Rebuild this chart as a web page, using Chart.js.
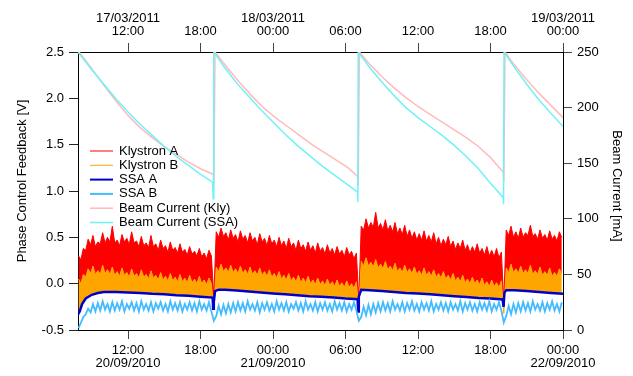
<!DOCTYPE html>
<html>
<head>
<meta charset="utf-8">
<script src="https://cdn.jsdelivr.net/npm/chart.js@4.4.0/dist/chart.umd.min.js"></script>
<style>
  html, body { margin: 0; padding: 0; background: #fff; }
  canvas { display: block; }
</style>
</head>
<body>
<canvas id="chart" width="633" height="376"></canvas>
<script>
// Time axis in hours from 20/09/2010 00:00 (bottom) / 17/03/2011 00:00 (top)
const tickHours = [12, 18, 24, 30, 36, 42, 48];
const bottomLabels = [['12:00', '20/09/2010'], '18:00', ['00:00', '21/09/2010'], '06:00', '12:00', '18:00', ['00:00', '22/09/2010']];
const topLabels = [['17/03/2011', '12:00'], '18:00', ['18/03/2011', '00:00'], '06:00', '12:00', '18:00', ['19/03/2011', '00:00']];
const xMin = 7.86, xMax = 48;

// Noisy phase feedback traces (upper edge of each band), sampled every 0.2 h from 7.9 h
const sampleStart = 7.9, sampleStep = 0.2;

const klyA = [
  0.30, 0.26, 0.38, 0.36, 0.48, 0.42, 0.52, 0.40, 0.45, 0.43,
  0.55, 0.44, 0.50, 0.45, 0.62, 0.44, 0.47, 0.41, 0.53, 0.45,
  0.49, 0.42, 0.56, 0.44, 0.46, 0.40, 0.51, 0.41, 0.44, 0.39,
  0.52, 0.40, 0.43, 0.36, 0.47, 0.38, 0.41, 0.34, 0.45, 0.36,
  0.39, 0.33, 0.43, 0.34, 0.37, 0.31, 0.40, 0.32, 0.35, 0.30,
  0.38, 0.29, 0.33, 0.27, 0.36, 0.30, -0.15, 0.56, 0.50, 0.60,
  0.51, 0.55, 0.47, 0.58, 0.49, 0.53, 0.45, 0.57, 0.48, 0.52,
  0.44, 0.55, 0.46, 0.50, 0.42, 0.54, 0.45, 0.49, 0.41, 0.52,
  0.43, 0.47, 0.40, 0.50, 0.41, 0.46, 0.38, 0.49, 0.40, 0.44,
  0.36, 0.47, 0.38, 0.42, 0.35, 0.45, 0.36, 0.41, 0.33, 0.44,
  0.35, 0.39, 0.32, 0.42, 0.33, 0.38, 0.31, 0.40, 0.32, 0.36,
  0.29, 0.39, 0.31, 0.35, 0.27, 0.33, -0.18, 0.62, 0.58, 0.70,
  0.60, 0.66, 0.61, 0.77, 0.60, 0.65, 0.58, 0.69, 0.57, 0.63,
  0.56, 0.66, 0.54, 0.60, 0.53, 0.63, 0.51, 0.58, 0.49, 0.56,
  0.47, 0.54, 0.47, 0.57, 0.46, 0.52, 0.45, 0.55, 0.43, 0.50,
  0.41, 0.48, 0.42, 0.51, 0.40, 0.46, 0.37, 0.44, 0.38, 0.47,
  0.36, 0.42, 0.33, 0.40, 0.34, 0.43, 0.33, 0.38, 0.31, 0.40,
  0.30, 0.36, 0.29, 0.38, 0.28, 0.34, -0.20, 0.58, 0.52, 0.62,
  0.50, 0.56, 0.49, 0.60, 0.50, 0.55, 0.52, 0.63, 0.51, 0.54,
  0.48, 0.58, 0.49, 0.53, 0.47, 0.57, 0.48, 0.52, 0.46, 0.56,
  0.50
];

const klyB = [
  0.05, 0.00, 0.10, 0.07, 0.16, 0.11, 0.19, 0.10, 0.14, 0.10,
  0.20, 0.11, 0.15, 0.10, 0.18, 0.09, 0.13, 0.08, 0.17, 0.09,
  0.12, 0.07, 0.16, 0.08, 0.11, 0.06, 0.15, 0.07, 0.10, 0.05,
  0.14, 0.06, 0.09, 0.04, 0.12, 0.04, 0.08, 0.03, 0.11, 0.03,
  0.07, 0.02, 0.10, 0.02, 0.06, 0.01, 0.09, 0.01, 0.05, 0.00,
  0.08, 0.00, 0.04, -0.01, 0.06, 0.00, -0.28, 0.18, 0.13, 0.21,
  0.13, 0.17, 0.12, 0.20, 0.12, 0.16, 0.11, 0.19, 0.11, 0.15,
  0.10, 0.18, 0.10, 0.14, 0.09, 0.17, 0.09, 0.13, 0.08, 0.15,
  0.07, 0.11, 0.06, 0.13, 0.05, 0.09, 0.04, 0.11, 0.03, 0.07,
  0.02, 0.09, 0.01, 0.06, 0.01, 0.08, 0.00, 0.04, -0.01, 0.06,
  -0.01, 0.03, -0.02, 0.05, -0.02, 0.02, -0.03, 0.04, -0.03, 0.01,
  -0.04, 0.03, -0.04, 0.00, -0.05, 0.02, -0.30, 0.24, 0.19, 0.28,
  0.19, 0.23, 0.18, 0.26, 0.17, 0.21, 0.16, 0.24, 0.15, 0.19,
  0.14, 0.22, 0.13, 0.17, 0.12, 0.20, 0.12, 0.16, 0.11, 0.18,
  0.10, 0.14, 0.09, 0.17, 0.09, 0.13, 0.08, 0.15, 0.07, 0.11,
  0.06, 0.13, 0.05, 0.09, 0.04, 0.11, 0.03, 0.07, 0.02, 0.09,
  0.01, 0.05, 0.00, 0.07, 0.00, 0.04, -0.01, 0.06, -0.02, 0.02,
  -0.03, 0.04, -0.03, 0.01, -0.04, 0.03, -0.32, 0.17, 0.12, 0.21,
  0.12, 0.16, 0.11, 0.19, 0.11, 0.15, 0.11, 0.20, 0.10, 0.14,
  0.10, 0.18, 0.09, 0.13, 0.09, 0.17, 0.08, 0.12, 0.08, 0.16,
  0.10
];

const ssaB = [
  -0.48, -0.42, -0.36, -0.33, -0.27, -0.31, -0.22, -0.30, -0.21, -0.29,
  -0.19, -0.28, -0.22, -0.30, -0.20, -0.29, -0.21, -0.28, -0.19, -0.30,
  -0.22, -0.27, -0.20, -0.29, -0.21, -0.30, -0.19, -0.28, -0.22, -0.29,
  -0.20, -0.30, -0.21, -0.27, -0.20, -0.29, -0.22, -0.30, -0.19, -0.28,
  -0.21, -0.29, -0.20, -0.30, -0.22, -0.28, -0.20, -0.29, -0.21, -0.30,
  -0.19, -0.28, -0.22, -0.29, -0.20, -0.30, -0.40, -0.35, -0.24, -0.33,
  -0.23, -0.32, -0.22, -0.31, -0.21, -0.30, -0.20, -0.29, -0.21, -0.30,
  -0.19, -0.28, -0.22, -0.29, -0.20, -0.31, -0.21, -0.28, -0.20, -0.29,
  -0.22, -0.30, -0.19, -0.28, -0.21, -0.29, -0.20, -0.30, -0.22, -0.27,
  -0.20, -0.29, -0.21, -0.30, -0.19, -0.28, -0.22, -0.29, -0.20, -0.30,
  -0.21, -0.28, -0.20, -0.29, -0.22, -0.30, -0.19, -0.28, -0.21, -0.29,
  -0.20, -0.30, -0.22, -0.28, -0.20, -0.29, -0.40, -0.36, -0.25, -0.34,
  -0.23, -0.33, -0.22, -0.31, -0.21, -0.30, -0.20, -0.29, -0.21, -0.30,
  -0.19, -0.28, -0.22, -0.29, -0.20, -0.30, -0.21, -0.28, -0.19, -0.29,
  -0.22, -0.30, -0.20, -0.28, -0.21, -0.29, -0.19, -0.30, -0.22, -0.28,
  -0.20, -0.29, -0.21, -0.30, -0.20, -0.28, -0.22, -0.29, -0.19, -0.30,
  -0.21, -0.28, -0.20, -0.29, -0.22, -0.30, -0.20, -0.28, -0.21, -0.29,
  -0.19, -0.30, -0.22, -0.28, -0.20, -0.29, -0.42, -0.35, -0.24, -0.33,
  -0.22, -0.31, -0.21, -0.30, -0.20, -0.29, -0.21, -0.30, -0.19, -0.28,
  -0.22, -0.29, -0.20, -0.30, -0.21, -0.28, -0.19, -0.29, -0.22, -0.30,
  -0.20
];

// SSA A (smooth trace)
const ssaATimes = [7.86, 8.0, 8.2, 8.5, 9, 9.5, 10, 11, 12, 13, 14, 15, 16, 17, 18, 19.0, 19.05, 19.1, 19.2, 19.5,
  20, 21, 22, 23, 24, 25, 26, 27, 28, 29, 30, 31.0, 31.05, 31.1, 31.3,
  32, 33, 34, 35, 36, 37, 38, 39, 40, 41, 42, 43.0, 43.08, 43.15, 43.3, 44, 45, 46, 47, 48];
const ssaA = [-0.33, -0.30, -0.22, -0.16, -0.12, -0.10, -0.09, -0.09, -0.095, -0.10, -0.11, -0.115, -0.125, -0.13, -0.14, -0.15, -0.27, -0.20, -0.08, -0.065,
  -0.065, -0.075, -0.085, -0.095, -0.105, -0.115, -0.125, -0.135, -0.14, -0.15, -0.16, -0.167, -0.30, -0.14, -0.065,
  -0.07, -0.08, -0.09, -0.10, -0.105, -0.115, -0.125, -0.135, -0.145, -0.155, -0.16, -0.17, -0.25, -0.10, -0.07, -0.07, -0.08, -0.09, -0.10, -0.11];

// Beam currents [mA]
const beamKlyTimes = [7.95, 9, 10, 11, 12, 13, 14, 15, 16, 17, 18, 19.05, 19.1, 19.2,
  20.2, 21.2, 22.2, 23.2, 24.2, 25.2, 26.2, 27.2, 28.2, 29.2, 30.2, 31.0, 31.05, 31.15,
  32, 33, 34, 35, 36, 37, 38, 39, 40, 41, 42, 43.05, 43.1, 43.2, 44, 45, 46, 47, 48];
const beamKly = [250, 235, 220, 206, 193, 182, 173, 165, 158, 151, 145, 140, 132, 250,
  236, 223, 211, 200, 191, 183, 175, 167, 160, 153, 146, 138, 130, 250,
  239, 228, 218, 209, 201, 194, 187, 180, 173, 165, 155, 142, 133, 250, 238, 225, 213, 202, 191];

const beamSsaTimes = [7.86, 9, 10, 11, 12, 13, 14, 15, 16, 17, 18, 19.0, 19.05, 19.1,
  20, 21, 22, 23, 24, 25, 26, 27, 28, 29, 30, 31.0, 31.02, 31.05,
  32, 33, 34, 35, 36, 37, 38, 39, 40, 41, 42, 43.05, 43.08, 43.12, 44, 45, 46, 47, 48];
const beamSsa = [250, 234, 221, 208, 196, 185, 175, 165, 156, 148, 140, 133, 118, 250,
  236, 222, 210, 198, 187, 176, 166, 157, 148, 140, 132, 124, 115, 250,
  236, 223, 211, 200, 191, 183, 175, 166, 156, 145, 132, 119, 113, 250, 236, 221, 207, 195, 183];

const FONT = '"Liberation Sans", Arial, Helvetica, sans-serif';
Chart.defaults.font.family = FONT;
Chart.defaults.font.size = 13;
Chart.defaults.color = '#000';

function sampled(values) {
  return values.map((v, i) => ({ x: +(sampleStart + sampleStep * i).toFixed(2), y: v }));
}
function paired(times, values) {
  return times.map((t, i) => ({ x: t, y: values[i] }));
}

// Legend inside the plot and the two axis titles
const overlay = {
  id: 'overlay',
  afterDraw(chart) {
    const ctx = chart.ctx;
    const area = chart.chartArea;
    ctx.save();
    ctx.font = '13px ' + FONT;
    ctx.fillStyle = '#000';
    ctx.textBaseline = 'middle';
    ctx.textAlign = 'left';
    chart.data.datasets.forEach((ds, k) => {
      const y = area.top + 99 + k * 14.3;
      ctx.strokeStyle = ds.borderColor;
      ctx.lineWidth = ds.legendWidth;
      ctx.beginPath();
      ctx.moveTo(area.left + 12, y);
      ctx.lineTo(area.left + 35, y);
      ctx.stroke();
      ctx.fillText(ds.label, area.left + 41, y);
    });

    ctx.textAlign = 'center';
    ctx.save();
    ctx.translate(22, 181);
    ctx.rotate(-Math.PI / 2);
    ctx.fillText('Phase Control Feedback [V]', 0, 0);
    ctx.restore();
    ctx.save();
    ctx.translate(617, 186);
    ctx.rotate(Math.PI / 2);
    ctx.fillText('Beam Current [mA]', 0, 0);
    ctx.restore();
    ctx.restore();
  }
};

function timeAxis(position, labels, height) {
  return {
    type: 'linear',
    position: position,
    min: xMin,
    max: xMax,
    afterBuildTicks: scale => { scale.ticks = tickHours.map(v => ({ value: v })); },
    afterFit: scale => { scale.height = height; },
    ticks: {
      autoSkip: false,
      maxRotation: 0,
      padding: 5,
      font: { size: 13, lineHeight: 1.02 },
      callback: v => labels[tickHours.indexOf(v)]
    },
    grid: { drawOnChartArea: false, tickLength: 9, tickColor: '#444' },
    border: { color: '#000', width: 1 }
  };
}

new Chart(document.getElementById('chart'), {
  type: 'line',
  data: {
    datasets: [
      { label: 'Klystron A', data: sampled(klyA), borderColor: '#FF0000', backgroundColor: '#FF0000', fill: '+1', borderWidth: 1, legendWidth: 1, yAxisID: 'y', order: 6 },
      { label: 'Klystron B', data: sampled(klyB), borderColor: '#FFA500', backgroundColor: '#FFA500', fill: '+1', borderWidth: 1, legendWidth: 1, yAxisID: 'y', order: 5 },
      { label: 'SSA A', data: paired(ssaATimes, ssaA), borderColor: '#0000C8', borderWidth: 2.5, legendWidth: 2, yAxisID: 'y', order: 4 },
      { label: 'SSA B', data: sampled(ssaB), borderColor: '#44BBFF', borderWidth: 1.8, legendWidth: 2, yAxisID: 'y', order: 3 },
      { label: 'Beam Current (Kly)', data: paired(beamKlyTimes, beamKly), borderColor: '#FFBBBB', borderWidth: 1.5, legendWidth: 1.5, yAxisID: 'y2', order: 2 },
      { label: 'Beam Current (SSA)', data: paired(beamSsaTimes, beamSsa), borderColor: '#6EF2F7', borderWidth: 1.5, legendWidth: 1.5, yAxisID: 'y2', order: 1 }
    ]
  },
  options: {
    responsive: false,
    animation: false,
    events: [],
    layout: { padding: 0 },
    elements: { point: { radius: 0 }, line: { tension: 0 } },
    plugins: { legend: { display: false }, tooltip: { enabled: false } },
    scales: {
      x: timeAxis('bottom', bottomLabels, 46),
      x2: timeAxis('top', topLabels, 52),
      y: {
        type: 'linear',
        position: 'left',
        min: -0.5,
        max: 2.5,
        afterFit: scale => { scale.width = 78; },
        ticks: { stepSize: 0.5, padding: 5, callback: v => v.toFixed(1) },
        grid: { drawOnChartArea: false, tickLength: 9, tickColor: '#222' },
        border: { color: '#000', width: 1 }
      },
      y2: {
        type: 'linear',
        position: 'right',
        min: 0,
        max: 250,
        afterFit: scale => { scale.width = 70; },
        ticks: { stepSize: 50, padding: 5 },
        grid: { drawOnChartArea: false, tickLength: 9, tickColor: '#444' },
        border: { color: '#000', width: 1 }
      }
    }
  },
  plugins: [overlay]
});
</script>
</body>
</html>
